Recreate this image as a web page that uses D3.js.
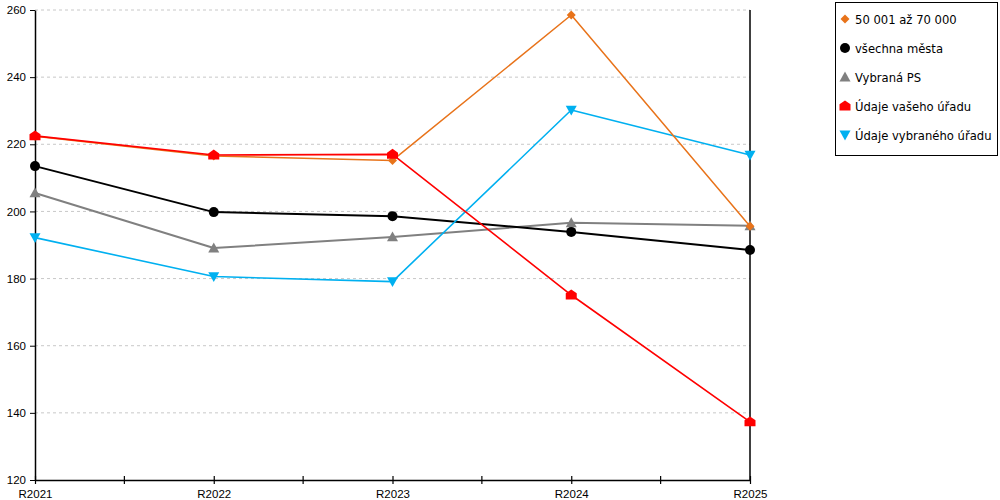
<!DOCTYPE html>
<html>
<head>
<meta charset="utf-8">
<script src="https://d3js.org/d3.v7.min.js"></script>
<style>
  body { margin: 0; background: #fff; }
  svg { font-family: "DejaVu Sans", Verdana, sans-serif; }
  .grid line { stroke: #c8c8c8; stroke-dasharray: 3,3; }
  .axis path, .axis line { stroke: #000; }
</style>
</head>
<body>
<div id="chart"></div>
<script>
  // categories and series
  const years = ["R2021", "R2022", "R2023", "R2024", "R2025"];
  const yTicks = [120, 140, 160, 180, 200, 220, 240, 260];

  const oranzova = [222.4, 216.5, 215.2, 258.5, 195.6];
  const vsechna = [213.5, 199.8, 198.6, 193.9, 188.5];
  const vybranaPS = [205.5, 189.1, 192.4, 196.6, 195.7];
  const vasUrad = [222.5, 216.8, 217.0, 175.1, 137.3];
  const vybranyUrad = [192.2, 180.6, 179.1, 230.2, 216.8];

  const series = [
    { name: "50 001 až 70 000", values: oranzova, color: "#e8731a", width: 1.5, symbol: "diamond" },
    { name: "všechna města", values: vsechna, color: "#000000", width: 2, symbol: "circle" },
    { name: "Vybraná PS", values: vybranaPS, color: "#808080", width: 2, symbol: "up" },
    { name: "Údaje vašeho úřadu", values: vasUrad, color: "#ff0000", width: 1.6, symbol: "house" },
    { name: "Údaje vybraného úřadu", values: vybranyUrad, color: "#00b0f0", width: 1.6, symbol: "down" }
  ];
  // drawing order (bottom to top)
  const drawOrder = [2, 1, 4, 0, 3];

  const W = 1000, H = 500;
  const margin = { top: 10, right: 250, bottom: 20, left: 35 };
  const width = W - margin.left - margin.right;
  const height = H - margin.top - margin.bottom;

  const svg = d3.select("#chart").append("svg")
    .attr("width", W).attr("height", H);
  const g = svg.append("g")
    .attr("transform", `translate(${margin.left},${margin.top})`);

  const x = d3.scalePoint().domain(years).range([0, width]);
  const y = d3.scaleLinear().domain([120, 260]).range([height, 0]);

  // horizontal dashed grid
  g.append("g").attr("class", "grid")
    .selectAll("line").data(yTicks.slice(1))
    .enter().append("line")
    .attr("x1", 0).attr("x2", width)
    .attr("y1", d => y(d)).attr("y2", d => y(d));

  // y axis
  g.append("g").attr("class", "axis")
    .call(d3.axisLeft(y).tickValues(yTicks).tickSize(5).tickPadding(4).tickSizeOuter(0))
    .call(a => a.selectAll("text").attr("font-size", 11.5).attr("fill", "#000").attr("font-family", null))
    .call(a => a.select(".domain").attr("stroke-width", 1.5));

  // right border line
  g.append("line")
    .attr("x1", width).attr("x2", width)
    .attr("y1", 0).attr("y2", height)
    .attr("stroke", "#000").attr("stroke-width", 1.5);

  // x axis with minor ticks between categories
  const step = x.step();
  const minor = years.slice(1).map(d => x(d) - step / 2);
  const xa = g.append("g").attr("class", "axis")
    .attr("transform", `translate(0,${height})`)
    .call(d3.axisBottom(x).tickSize(4).tickPadding(6).tickSizeOuter(0))
    .call(a => a.selectAll("text").attr("font-size", 11.5).attr("fill", "#000").attr("font-family", null))
    .call(a => a.select(".domain").attr("stroke-width", 1.5));
  xa.selectAll(".tick line").attr("y1", -4).attr("stroke-width", 1.2);
  xa.selectAll(".minor").data(minor).enter().append("line")
    .attr("class", "minor")
    .attr("x1", d => d).attr("x2", d => d)
    .attr("y1", -4).attr("y2", 4)
    .attr("stroke", "#000").attr("stroke-width", 1.2);

  function symbolPath(type, s) {
    switch (type) {
      case "diamond": return `M0,${-s}L${s},0L0,${s}L${-s},0Z`;
      case "circle": return d3.symbol(d3.symbolCircle, Math.PI * s * s)();
      case "up": return `M0,${-s}L${s},${s * 0.8}L${-s},${s * 0.8}Z`;
      case "down": return `M0,${s}L${s},${-s * 0.8}L${-s},${-s * 0.8}Z`;
      case "house": return `M0,${-s}L${s},${-s * 0.3}L${s},${s * 0.8}L${-s},${s * 0.8}L${-s},${-s * 0.3}Z`;
    }
  }
  const symSize = { diamond: 4.5, circle: 5, up: 5.5, down: 5.5, house: 5.5 };

  const line = d3.line().x((d, i) => x(years[i])).y(d => y(d));

  drawOrder.forEach(k => {
    const s = series[k];
    g.append("path")
      .attr("d", line(s.values))
      .attr("fill", "none")
      .attr("stroke", s.color)
      .attr("stroke-width", s.width)
      .attr("stroke-linejoin", "round");
  });
  drawOrder.forEach(k => {
    const s = series[k];
    g.append("g").selectAll("path").data(s.values).enter().append("path")
      .attr("transform", (d, i) => `translate(${x(years[i])},${y(d)})`)
      .attr("d", symbolPath(s.symbol, symSize[s.symbol]))
      .attr("fill", s.color);
  });

  // legend
  const lg = svg.append("g").attr("transform", "translate(835,2)");
  lg.append("rect").attr("x", 0.5).attr("y", 0.5)
    .attr("width", 162).attr("height", 153)
    .attr("fill", "#fff").attr("stroke", "#000");
  series.forEach((s, i) => {
    const row = lg.append("g").attr("transform", `translate(10,${17 + i * 29})`);
    row.append("path")
      .attr("d", symbolPath(s.symbol, symSize[s.symbol]))
      .attr("fill", s.color);
    row.append("text")
      .attr("x", 10).attr("y", 4.5)
      .attr("font-size", 11.6)
      .text(s.name);
  });
</script>
</body>
</html>
